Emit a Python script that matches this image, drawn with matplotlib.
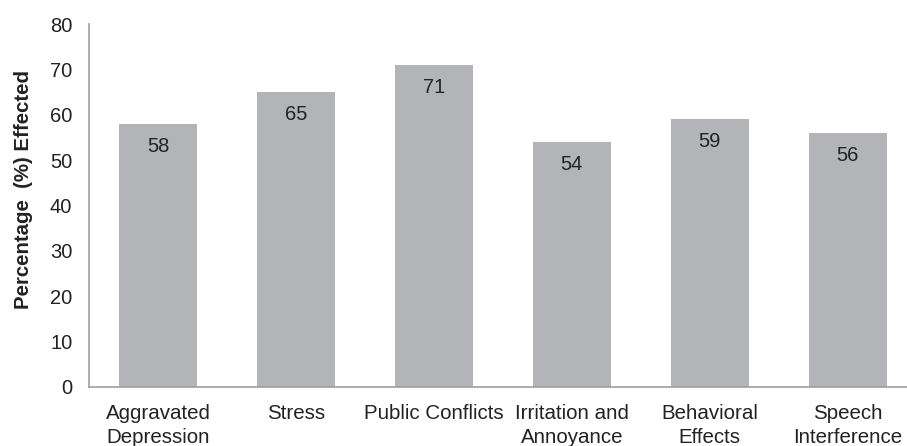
import matplotlib.pyplot as plt
import numpy as np

plt.rcParams['font.family'] = ['Liberation Sans', 'DejaVu Sans']

# categories and their percentages
categories = ['Aggravated\nDepression', 'Stress', 'Public Conflicts',
              'Irritation and\nAnnoyance', 'Behavioral\nEffects',
              'Speech\nInterference']
values = [58, 65, 71, 54, 59, 56]
yticks = [0, 10, 20, 30, 40, 50, 60, 70, 80]


def main():
    fig = plt.figure(figsize=(9.07, 4.46), dpi=100)
    ax = fig.add_axes([0.0981, 0.1323, 0.9019, 0.8137])

    x = np.arange(len(categories))
    bars = ax.bar(x, values, width=0.565, color='#b3b4b7', zorder=2)

    # value printed just under the top of each bar
    for rect, v in zip(bars, values):
        ax.annotate('%d' % v, (rect.get_x() + rect.get_width() / 2, v),
                    xytext=(0, -16), textcoords='offset points',
                    ha='center', va='center', fontsize=14.5, color='#222222')

    ax.set_xlim(-0.5, 5.43)
    ax.set_ylim(0, 80)
    ax.set_xticks(x)
    ax.set_xticklabels(categories, fontsize=14.8, color='#222222',
                       linespacing=1.35)
    ax.set_yticks(yticks)
    ax.tick_params(axis='y', length=0, labelsize=14.5, colors='#222222')
    ax.tick_params(axis='x', length=0, colors='#222222', pad=12)
    ax.tick_params(axis='y', pad=12)

    for side in ['top', 'right']:
        ax.spines[side].set_visible(False)
    for side in ['left', 'bottom']:
        ax.spines[side].set_color('#a0a0a0')
        ax.spines[side].set_linewidth(1.2)

    ax.set_ylabel('Percentage  (%) Effected', fontsize=14.7,
                  fontweight='bold', color='#222222')
    ax.yaxis.set_label_coords(-0.069, 0.545)

    plt.savefig('out.png', dpi=100)


if __name__ == '__main__':
    main()
